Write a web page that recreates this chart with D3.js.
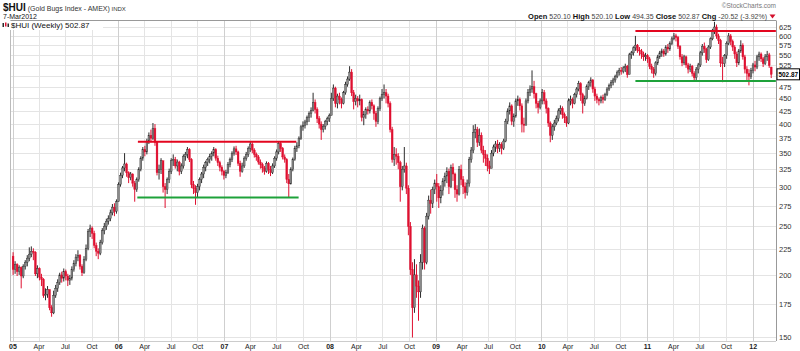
<!DOCTYPE html>
<html>
<head>
<meta charset="utf-8">
<script src="https://cdn.jsdelivr.net/npm/d3@7"></script>
<style>
    body { margin: 0; background: #fff; }
    #chart { width: 800px; height: 351px; }
    text { font-family: Arial, "Liberation Sans", sans-serif; }
</style>
</head>
<body>
<div id="chart"></div>
<script>
// weekly bars, one entry per week starting Mon 3-Jan-2005 : [close, high, low]
// open of each week = previous week's close
const w2005 = [[205,222,200],[210,213,201],[203,211,199],[207,209,200],[199,208,188],[208,210,197],[212,214,205],[216,219,208],[220,227,213],[223,228,217],
    [222,226,214],[201,223,199],[206,209,197],[198,207,195],[196,201,190],[182,197,180],[183,188,178],[187,190,180],[172,187,170],[168,174,165],
    [182,186,167],[188,191,180],[193,196,185],[200,202,191],[197,203,193],[203,206,194],[199,205,195],[195,201,190],[197,200,191],[205,208,195],
    [211,214,203],[217,220,208],[219,224,213],[208,220,205],[202,210,199],[215,218,201],[226,230,213],[244,247,224],[248,252,238],[242,250,236],
    [229,245,226],[223,232,218],[221,226,215],[232,235,219],[245,248,230],[250,254,241],[256,259,246],[259,263,252],[266,270,256],[273,277,263],
    [268,278,262],[280,283,265]];
const w2006 = [[303,306,280],[316,320,300],[327,330,312],[333,350,322],[320,335,314],[313,322,305],[318,321,309],[305,319,300],[296,308,280],[310,313,293],
    [325,328,307],[342,345,322],[356,360,338],[352,362,345],[370,374,348],[380,385,365],[375,390,368],[392,402,372],[368,400,362],[320,370,316],
    [325,332,310],[338,342,318],[300,335,292],[296,305,272],[310,313,290],[322,326,305],[338,342,318],[340,348,330],[330,344,326],[336,340,322],
    [322,338,316],[330,334,318],[345,348,326],[348,352,338],[356,360,342],[340,358,336],[303,342,298],[298,308,290],[292,302,276],[300,304,285],
    [310,313,295],[318,321,305],[328,332,312],[335,338,322],[340,343,330],[345,349,334],[350,353,338],[356,360,345],[342,358,338],[335,346,330],
    [328,338,322],[322,331,316]];
const w2007 = [[316,324,310],[320,324,312],[332,336,318],[340,343,328],[350,353,336],[357,361,346],[352,362,347],[334,354,330],[322,338,314],[330,335,320],
    [342,345,327],[348,352,338],[358,361,344],[365,369,352],[355,368,350],[348,358,343],[344,351,338],[336,347,332],[332,340,326],[327,335,320],
    [322,330,317],[334,337,320],[325,336,318],[320,330,315],[330,334,318],[342,345,327],[352,356,338],[366,370,348],[358,369,352],[344,360,340],
    [340,348,335],[310,342,305],[304,318,286],[325,328,303],[340,343,322],[358,362,338],[362,368,352],[375,378,358],[395,398,372],[398,405,388],
    [404,408,392],[412,416,398],[420,424,404],[426,432,412],[442,462,424],[428,448,420],[410,432,402],[400,415,392],[390,405,372],[396,400,385],
    [405,408,390],[410,414,398],[416,420,404]];
const w2008 = [[450,462,428],[472,480,445],[440,475,432],[455,460,430],[448,462,438],[440,452,430],[462,466,438],[480,486,458],[492,498,475],[508,522,488],
    [462,515,455],[444,468,428],[450,458,436],[445,455,432],[448,458,436],[412,450,405],[418,425,398],[428,432,410],[425,434,418],[442,446,420],
    [435,448,428],[420,438,408],[405,425,395],[430,434,400],[450,454,425],[458,470,445],[462,480,450],[455,470,440],[440,460,432],[390,444,385],
    [340,395,335],[348,360,330],[345,358,332],[335,350,325],[300,338,280],[325,330,295],[330,360,320],[298,335,290],[250,302,240],[205,255,200],
    [172,212,150],[200,215,168],[190,210,180],[185,195,162],[212,220,180],[248,252,205],[212,250,205],[262,266,210],[282,288,258],[278,296,265],
    [296,300,272],[305,310,290]];
const w2009 = [[300,318,280],[285,305,272],[295,302,278],[308,312,288],[315,320,300],[322,328,305],[300,326,290],[328,332,298],[318,334,308],[296,320,285],
    [290,302,280],[325,330,288],[310,332,302],[300,315,290],[292,306,284],[305,310,288],[340,344,300],[355,360,335],[385,398,350],[390,400,375],
    [368,395,360],[380,392,362],[355,385,350],[348,362,335],[342,355,330],[330,348,322],[326,338,318],[350,355,328],[360,364,345],[365,370,352],
    [358,372,350],[364,368,352],[358,368,348],[370,374,355],[405,410,368],[425,430,400],[435,442,418],[405,438,398],[415,420,395],[445,450,412],
    [448,456,435],[435,452,426],[400,440,385],[398,412,385],[445,450,398],[462,470,440],[470,478,455],[475,512,462],[460,488,450],[440,462,430],
    [432,445,420],[445,450,428]];
const w2010 = [[462,470,438],[445,468,438],[430,450,420],[402,432,395],[380,405,368],[395,400,372],[402,408,388],[410,416,398],[425,430,405],[430,436,418],
    [418,434,410],[412,422,402],[402,415,395],[445,450,400],[448,456,436],[440,452,430],[458,462,438],[470,474,452],[482,488,465],[458,485,445],
    [440,462,420],[450,456,435],[475,480,448],[484,488,468],[490,496,475],[470,492,462],[455,475,445],[448,460,440],[445,452,436],[452,456,440],
    [448,458,440],[458,462,445],[470,474,455],[478,482,466],[485,490,472],[490,495,478],[498,502,484],[508,512,494],[512,518,500],[510,520,502],
    [518,522,505],[522,528,508],[502,525,495],[550,555,505],[555,560,540],[568,572,548],[575,600,560],[562,578,555],[560,570,548],[552,565,540],
    [545,558,535],[548,555,535]];
const w2011 = [[540,552,530],[522,545,515],[515,528,505],[505,520,495],[530,534,500],[545,550,525],[555,560,540],[560,566,545],[552,565,545],[570,575,548],
    [565,578,555],[580,585,560],[592,598,575],[600,608,588],[596,606,585],[572,600,565],[545,575,538],[530,552,522],[545,550,525],[525,548,518],
    [515,530,505],[522,528,508],[505,525,498],[495,510,488],[515,520,490],[525,530,505],[555,560,520],[572,578,548],[565,582,555],[538,568,530],
    [570,575,535],[592,596,565],[615,620,588],[625,640,605],[600,632,592],[588,606,578],[530,592,520],[528,545,485],[548,552,520],[580,585,540],
    [600,608,575],[585,605,575],[570,590,560],[552,575,540],[530,558,520],[560,565,525],[575,588,555],[545,580,538],[515,550,505],[505,522,490],
    [498,515,478],[512,518,492]];
const w2012 = [[525,530,505],[520,535,510],[545,550,515],[552,558,535],[540,556,532],[528,545,520],[545,552,525],[550,560,535],[523.39,555,518],[502.87,520.10,494.35]];

const firstOpen = 218;
const lastQuote = {open: 520.10, high: 520.10, low: 494.35, close: 502.87, chg: -20.52};

const yTicks = [150, 175, 200, 225, 250, 275, 300, 325, 350, 375, 400, 425, 450, 475, 500, 525, 550, 575, 600, 625];

// support / resistance lines drawn on the chart
const trendLines = [
    {from: '2006-03-10', to: '2007-09-08', value: 369, color: '#e3061f'},
    {from: '2006-03-08', to: '2007-09-16', value: 285.3, color: '#1ea23a'},
    {from: '2010-11-22', to: '2012-03-21', value: 614, color: '#e3061f'},
    {from: '2010-11-22', to: '2012-03-21', value: 487.5, color: '#1ea23a'}
];

class CandleVis {

    constructor(parentElement, weeks, quote) {
        this.parentElement = parentElement;
        this.weeks = weeks;
        this.quote = quote;
        this.initVis();
    }

    initVis() {
        let vis = this;

        vis.margin = {top: 20.5, right: 24, bottom: 10, left: 10.5};
        vis.width = 800 - vis.margin.left - vis.margin.right;
        vis.height = 351 - vis.margin.top - vis.margin.bottom;
        vis.right = vis.margin.left + vis.width;
        vis.bottom = vis.margin.top + vis.height;

        vis.svg = d3.select('#' + vis.parentElement).append('svg')
            .attr('width', 800)
            .attr('height', 351);

        vis.x = d3.scaleTime()
            .domain([new Date(2005, 0, 1), new Date(2012, 0, 1)])
            .range([12.5, 752.7]);
        vis.y = d3.scaleLog()
            .domain([147.6, 644])
            .range([vis.bottom, vis.margin.top]);

        vis.wrangleData();
    }

    wrangleData() {
        let vis = this;
        let start = new Date(2005, 0, 3);
        vis.bars = [];
        vis.weeks.forEach((w, i) => {
            let prev = i === 0 ? firstOpen : vis.weeks[i - 1][0];
            let last = i === vis.weeks.length - 1;
            vis.bars.push({
                date: d3.timeDay.offset(start, 7 * i),
                open: last ? vis.quote.open : prev,
                prevClose: prev,
                close: w[0], high: w[1], low: w[2]
            });
        });
        vis.updateVis();
    }

    updateVis() {
        let vis = this;
        let x = vis.x, y = vis.y;
        let L = vis.margin.left, R = vis.right, T = vis.margin.top, B = vis.bottom;
        let py = y(vis.quote.close);

        // grid
        let quarters = d3.timeMonth.every(3).range(new Date(2005, 0, 1), new Date(2012, 3, 1));
        vis.svg.append('g').selectAll('line').data(yTicks).enter().append('line')
            .attr('x1', L).attr('x2', R)
            .attr('y1', d => Math.round(y(d)) + 0.5).attr('y2', d => Math.round(y(d)) + 0.5)
            .attr('stroke', '#e4e4e4');
        vis.svg.append('g').selectAll('line').data(quarters).enter().append('line')
            .attr('x1', d => Math.round(x(d)) + 0.5).attr('x2', d => Math.round(x(d)) + 0.5)
            .attr('y1', T).attr('y2', B)
            .attr('stroke', d => d.getMonth() === 0 ? '#cfcfcf' : '#e4e4e4');

        // frame
        vis.svg.append('line').attr('x1', L).attr('x2', R).attr('y1', T).attr('y2', T).attr('stroke', '#999');
        vis.svg.append('line').attr('x1', L).attr('x2', L).attr('y1', T).attr('y2', B).attr('stroke', '#bbb');
        vis.svg.append('line').attr('x1', R + 0.5).attr('x2', R + 0.5).attr('y1', T).attr('y2', B).attr('stroke', '#999');
        vis.svg.append('line').attr('x1', L).attr('x2', R).attr('y1', B + 0.5).attr('y2', B + 0.5)
            .attr('stroke', '#999').attr('stroke-dasharray', '1,1');

        // candles
        let colour = d => d.close < d.prevClose ? '#df1030' : '#2b2b2b';
        let bodyFill = d => {
            if (d.close < d.prevClose) return d.close < d.open ? '#df1030' : '#f07a8c';
            return d.close < d.open ? '#2b2b2b' : '#8a8a8a';
        };
        let candles = vis.svg.append('g').selectAll('g').data(vis.bars).enter().append('g');
        candles.append('line')
            .attr('x1', d => x(d.date)).attr('x2', d => x(d.date))
            .attr('y1', d => y(d.high)).attr('y2', d => y(d.low))
            .attr('stroke', colour).attr('stroke-width', 1);
        candles.append('rect')
            .attr('x', d => x(d.date) - 0.9)
            .attr('width', 1.8)
            .attr('y', d => y(Math.max(d.open, d.close)))
            .attr('height', d => Math.max(0.8, Math.abs(y(d.open) - y(d.close))))
            .attr('fill', bodyFill)
            .attr('stroke', colour).attr('stroke-width', 0.4);

        // support / resistance
        let parse = d3.timeParse('%Y-%m-%d');
        vis.svg.append('g').selectAll('line').data(trendLines).enter().append('line')
            .attr('x1', d => x(parse(d.from))).attr('x2', d => x(parse(d.to)))
            .attr('y1', d => y(d.value)).attr('y2', d => y(d.value))
            .attr('stroke', d => d.color).attr('stroke-width', 2);

        // axes - labels that sit under the price box are left out
        let yAxis = d3.axisRight(y)
            .tickValues(yTicks.filter(v => Math.abs(y(v) - py) > 7))
            .tickSize(0).tickPadding(3).tickFormat(d3.format('d'));
        let yg = vis.svg.append('g').attr('transform', `translate(${R}, 0)`).call(yAxis);
        yg.select('.domain').remove();
        yg.selectAll('text').attr('font-size', 7.5).attr('fill', '#333').attr('font-family', 'Arial, "Liberation Sans", sans-serif');

        let xAxis = d3.axisBottom(x).tickValues(quarters).tickSize(0).tickPadding(3)
            .tickFormat(d => d.getMonth() === 0 ? d3.timeFormat('%y')(d) : d3.timeFormat('%b')(d));
        let xg = vis.svg.append('g').attr('transform', `translate(0, ${B})`).call(xAxis);
        xg.select('.domain').remove();
        xg.selectAll('text').attr('font-size', 7).attr('fill', '#222')
            .attr('font-family', 'Arial, "Liberation Sans", sans-serif')
            .attr('font-weight', d => d.getMonth() === 0 ? 'bold' : 'normal');

        // last price box on the axis
        vis.svg.append('rect').attr('x', R + 1).attr('y', py - 5.5).attr('width', 22.5).attr('height', 11)
            .attr('fill', '#fff').attr('stroke', '#000').attr('stroke-width', 1);
        vis.svg.append('text').attr('x', R + 2.5).attr('y', py + 2.8)
            .attr('font-size', 7.5).attr('font-weight', 'bold').attr('fill', '#000')
            .attr('textLength', 19.5).attr('lengthAdjust', 'spacingAndGlyphs')
            .text(vis.quote.close.toFixed(2));

        // legend inside plot
        vis.svg.append('rect').attr('x', 0).attr('y', T + 0.5).attr('width', 103).attr('height', 9).attr('fill', '#fff');
        vis.svg.append('rect').attr('x', 2.5).attr('y', 23).attr('width', 1.5).attr('height', 4).attr('fill', '#2b2b2b');
        vis.svg.append('rect').attr('x', 5).attr('y', 22.5).attr('width', 1.5).attr('height', 4).attr('fill', '#df1030');
        vis.svg.append('rect').attr('x', 7.5).attr('y', 23.5).attr('width', 1.5).attr('height', 3.5).attr('fill', '#2b2b2b');
        vis.svg.append('text').attr('x', 11).attr('y', 27.5).attr('font-size', 8).attr('fill', '#111')
            .text(`$HUI (Weekly) ${vis.quote.close.toFixed(2)}`);

        // title block
        let title = vis.svg.append('text').attr('x', 3).attr('y', 11).attr('fill', '#111');
        title.append('tspan').attr('font-size', 10).attr('font-weight', 'bold').text('$HUI');
        title.append('tspan').attr('font-size', 7).attr('fill', '#333').text(' (Gold Bugs Index - AMEX)');
        title.append('tspan').attr('font-size', 6).attr('fill', '#333').text(' INDX');
        vis.svg.append('text').attr('x', 3).attr('y', 18.5).attr('font-size', 7).attr('fill', '#111').text('7-Mar2012');

        vis.svg.append('text').attr('x', 776).attr('y', 8).attr('text-anchor', 'end')
            .attr('font-size', 6.5).attr('fill', '#777').text('\u00a9StockCharts.com');

        let q = vis.quote;
        let pct = q.chg / (q.close - q.chg) * 100;
        let qt = vis.svg.append('text').attr('x', 767).attr('y', 18.5).attr('text-anchor', 'end')
            .attr('font-size', 7.5).attr('fill', '#111');
        [['Open', q.open.toFixed(2)], ['High', q.high.toFixed(2)], ['Low', q.low.toFixed(2)],
         ['Close', q.close.toFixed(2)], ['Chg', `${q.chg.toFixed(2)} (${pct.toFixed(2)}%)`]]
            .forEach((p, i) => {
                qt.append('tspan').attr('font-weight', 'bold').text((i ? '  ' : '') + p[0] + ' ');
                qt.append('tspan').attr('font-size', 7).attr('fill', '#444').text(p[1]);
            });
        // down arrow since chg < 0
        vis.svg.append('path').attr('d', 'M769.5,14.5 L775.5,14.5 L772.5,18.5 Z')
            .attr('fill', q.chg < 0 ? '#d4102c' : '#2a9a2a');
    }
}

let chart = new CandleVis('chart', [].concat(w2005, w2006, w2007, w2008, w2009, w2010, w2011, w2012), lastQuote);
</script>
</body>
</html>
